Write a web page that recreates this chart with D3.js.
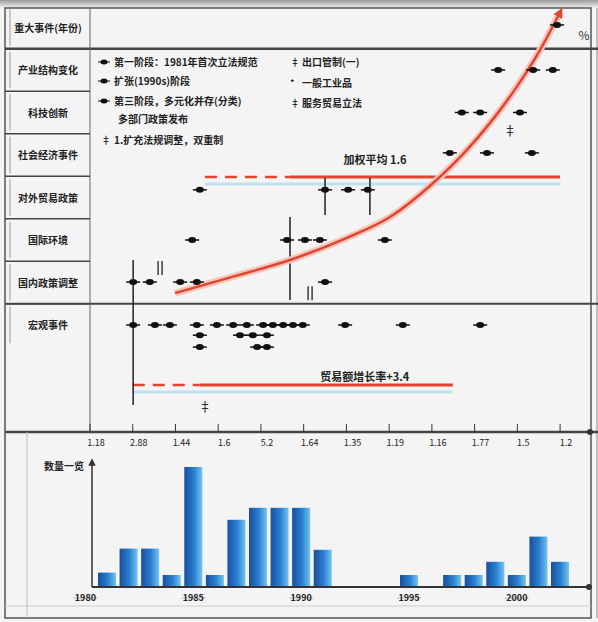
<!DOCTYPE html>
<html>
<head>
<meta charset="utf-8">
<script src="https://cdn.jsdelivr.net/npm/d3@7"></script>
<style>
body { margin: 0; background: #fff; }
svg { display: block; font-family: "Noto Sans CJK SC", "Noto Sans", sans-serif; }
</style>
</head>
<body>
<svg id="chart" width="598" height="622"></svg>
<script>
// Row labels (left column)
let rowLabels = ['重大事件(年份)', '产业结构变化', '科技创新', '社会经济事件', '对外贸易政策', '国际环境', '国内政策调整', '宏观事件'];

// Top axis tick labels
let tickValues = [0, 1, 2, 3, 4, 5, 6, 7, 8, 9, 10, 11];
let tickLabels = ['1.18', '2.88', '1.44', '1.6', '5.2', '1.64', '1.35', '1.19', '1.16', '1.77', '1.5', '1.2'];

// Events: [x value, row]
let events = [
    [10.93, -0.06],
    [9.55, 1], [10.37, 1], [10.83, 1],
    [8.70, 2], [9.13, 2], [10.06, 2],
    [8.42, 2.95], [9.29, 2.95], [10.34, 2.95],
    [2.57, 3.82], [5.50, 3.82], [6.04, 3.82], [6.50, 3.82],
    [2.39, 5], [4.61, 5], [5.03, 5], [5.38, 5], [6.90, 5],
    [1.01, 5.99], [1.40, 5.99], [2.11, 5.99], [2.50, 5.99], [5.50, 5.99],
    [1.01, 7], [1.52, 7], [1.87, 7], [2.50, 7], [2.97, 7], [3.35, 7], [3.67, 7],
    [4.05, 7], [4.28, 7], [4.52, 7], [4.75, 7], [4.98, 7], [5.97, 7], [7.32, 7], [9.13, 7],
    [2.57, 7.24], [3.51, 7.24], [3.81, 7.24], [4.14, 7.24],
    [2.57, 7.52], [3.91, 7.52], [4.14, 7.52]
];

// Growth curve: [x value, row]
let curvePts = [[1.99, 6.25], [3.39, 5.85], [4.68, 5.47], [6.01, 4.95], [7.02, 4.46],
    [8.03, 3.66], [8.82, 2.88], [9.90, 1.52], [10.53, 0.53], [11.0, -0.36]];

// Reference lines: row, start, end of dashes, end
let refRows = [3.52, 8.41];
let refStart = [2.69, 1.0];
let refDashEnd = [4.68, 2.57];
let refEnd = [11.0, 8.49];
let refLabels = ['加权平均 1.6', '贸易额增长率+3.4'];
let refLabelX = [6.67, 6.43];
let refLabelRow = [3.1, 8.2];

// Vertical markers: [x, row from, row to]
let vLines = [[1.01, 5.47, 8.88], [4.68, 4.46, 6.41], [5.50, 3.54, 4.41], [6.55, 3.54, 4.41]];
let pairMarks = [[1.64, 5.66], [5.15, 6.25]];
let symbols = [['‡', 9.83, 2.41], ['‡', 2.69, 8.9]];

// Legend
let legendLeft = ['第一阶段：1981年首次立法规范', '扩张(1990s)阶段', '第三阶段，多元化并存(分类)', '多部门政策发布', '1.扩充法规调整，双重制'];
let legendLeftMark = ['dot', 'dot', 'dot', '', '‡'];
let legendRight = ['出口管制(一)', '一般工业品', '服务贸易立法'];
let legendRightMark = ['‡', '*', '‡'];

// Bar chart
let barYears = [1981, 1982, 1983, 1984, 1985, 1986, 1987, 1988, 1989, 1990, 1991, 1995, 1997, 1998, 1999, 2000, 2001, 2002];
let barValues = [1.2, 3.2, 3.2, 1, 10, 1, 5.6, 6.6, 6.6, 6.6, 3.1, 1, 1, 1, 2.1, 1, 4.2, 2.1];
let barTickYears = [1980, 1985, 1990, 1995, 2000];

let svg = d3.select('#chart');
let x = d3.scaleLinear().domain([0, 11.7]).range([90, 590]);
let row = d3.scaleLinear().domain([0, 7]).range([27.5, 325]);
let barX = d3.scaleLinear().domain([1981, 2002]).range([107, 560]);
let barY = d3.scaleLinear().domain([0, 11]).range([587, 455]);

let defs = svg.append('defs');
let grad = defs.append('linearGradient').attr('id', 'barGrad');
grad.append('stop').attr('offset', '0%').attr('stop-color', '#1a4f9c');
grad.append('stop').attr('offset', '55%').attr('stop-color', '#2a80d2');
grad.append('stop').attr('offset', '100%').attr('stop-color', '#74c4ee');
let topShade = defs.append('linearGradient').attr('id', 'topShade').attr('x1', 0).attr('x2', 0).attr('y1', 0).attr('y2', 1);
topShade.append('stop').attr('offset', '0%').attr('stop-color', '#9a9a9a');
topShade.append('stop').attr('offset', '100%').attr('stop-color', '#f2f2f2');
defs.append('marker').attr('id', 'redArrow').attr('viewBox', '0 0 10 10')
    .attr('refX', 5).attr('refY', 5).attr('markerWidth', 4).attr('markerHeight', 4).attr('orient', 'auto')
    .append('path').attr('d', 'M0,0L10,5L0,10z').attr('fill', '#e0452f');
defs.append('marker').attr('id', 'blackArrow').attr('viewBox', '0 0 10 10')
    .attr('refX', 5).attr('refY', 5).attr('markerWidth', 5).attr('markerHeight', 5).attr('orient', 'auto')
    .append('path').attr('d', 'M0,0L10,5L0,10z').attr('fill', '#333');

// Background and frame
svg.append('rect').attr('width', 598).attr('height', 622).attr('fill', '#f4f4f4');
svg.append('rect').attr('x', 0).attr('y', 0).attr('width', 598).attr('height', 8).attr('fill', 'url(#topShade)');
svg.append('rect').attr('x', 5).attr('y', 8).attr('width', 586).attr('height', 610)
    .attr('fill', 'none').attr('stroke', '#555').attr('stroke-width', 1.5);
svg.append('line').attr('x1', 597).attr('x2', 597).attr('y1', 8).attr('y2', 618).attr('stroke', '#888');

// Horizontal dividers
[[row(0.5), 2.5], [row(6.5), 2], [432, 2.5]].forEach(([y, w]) => {
    svg.append('line').attr('x1', 5).attr('x2', 598).attr('y1', y).attr('y2', y)
        .attr('stroke', '#444').attr('stroke-width', w);
});
svg.append('line').attr('x1', 90).attr('x2', 90).attr('y1', 8).attr('y2', 432).attr('stroke', '#666');
svg.append('line').attr('x1', 27).attr('x2', 27).attr('y1', 432).attr('y2', 618).attr('stroke', '#bbb');
svg.append('line').attr('x1', 5).attr('x2', 591).attr('y1', 606).attr('y2', 606).attr('stroke', '#ccc');

// Row label cells
rowLabels.forEach((label, i) => {
    if (i > 0 && i < 7) {
        svg.append('line').attr('x1', 5).attr('x2', 90).attr('y1', row(i + 0.5)).attr('y2', row(i + 0.5))
            .attr('stroke', '#444').attr('stroke-width', 1.5);
    }
    svg.append('line').attr('x1', 10).attr('x2', 10).attr('y1', row(i - 0.5) + 3).attr('y2', row(i + 0.5) - 3)
        .attr('stroke', '#999');
    svg.append('text').attr('x', 48).attr('y', row(i) + 4)
        .attr('text-anchor', 'middle').attr('font-size', 10).attr('font-weight', 'bold')
        .attr('fill', '#222').text(label);
});

// Top axis
let axis = svg.append('g').attr('transform', 'translate(0,432)');
tickValues.forEach((t, i) => {
    axis.append('line').attr('x1', x(t)).attr('x2', x(t)).attr('y1', 0).attr('y2', -8).attr('stroke', '#333');
    axis.append('text').attr('x', x(t) + 6).attr('y', 14).attr('text-anchor', 'middle')
        .attr('font-size', 9).attr('fill', '#222').text(tickLabels[i]);
});
axis.append('circle').attr('cx', x(11.7)).attr('cy', 0).attr('r', 3).attr('fill', '#333');

// Legend
let legY = [62, 81, 101, 119, 140];
legendLeft.forEach((t, i) => {
    let m = legendLeftMark[i];
    if (m === 'dot') {
        svg.append('line').attr('x1', 98).attr('x2', 110).attr('y1', legY[i]).attr('y2', legY[i]).attr('stroke', '#111');
        svg.append('ellipse').attr('cx', 104).attr('cy', legY[i]).attr('rx', 3.5).attr('ry', 2.5).attr('fill', '#111');
    } else if (m) {
        svg.append('text').attr('x', 101).attr('y', legY[i] + 4).attr('font-size', 10).text(m);
    }
    svg.append('text').attr('x', i === 3 ? 118 : 114).attr('y', legY[i] + 4)
        .attr('font-size', 10).attr('font-weight', 'bold').attr('fill', '#222').text(t);
});
legendRight.forEach((t, i) => {
    let y = [62, 83, 103][i];
    svg.append('text').attr('x', 290).attr('y', y + 4).attr('font-size', 10).text(legendRightMark[i]);
    svg.append('text').attr('x', 302).attr('y', y + 4).attr('font-size', 10)
        .attr('font-weight', 'bold').attr('fill', '#222').text(t);
});

// Reference lines
refRows.forEach((r, i) => {
    let y = row(r);
    svg.append('line').attr('x1', x(refStart[i])).attr('x2', x(refEnd[i]))
        .attr('y1', y + 7).attr('y2', y + 7).attr('stroke', '#bfe2f0').attr('stroke-width', 3);
    svg.append('line').attr('x1', x(refStart[i])).attr('x2', x(refDashEnd[i]))
        .attr('y1', y).attr('y2', y).attr('stroke', '#e0452f').attr('stroke-width', 2.5)
        .attr('stroke-dasharray', '12,8');
    svg.append('line').attr('x1', x(refDashEnd[i])).attr('x2', x(refEnd[i]))
        .attr('y1', y).attr('y2', y).attr('stroke', '#e0452f').attr('stroke-width', 3);
    svg.append('text').attr('x', x(refLabelX[i])).attr('y', row(refLabelRow[i]) + 5)
        .attr('text-anchor', 'middle').attr('font-size', 11).attr('font-weight', 'bold')
        .attr('fill', '#222').text(refLabels[i]);
});

// Vertical markers
vLines.forEach(([v, r0, r1]) => {
    svg.append('line').attr('x1', x(v)).attr('x2', x(v)).attr('y1', row(r0)).attr('y2', row(r1))
        .attr('stroke', '#222').attr('stroke-width', 1.5);
});
pairMarks.forEach(([v, r]) => {
    [-2, 2].forEach(dx => {
        svg.append('line').attr('x1', x(v) + dx).attr('x2', x(v) + dx)
            .attr('y1', row(r) - 7).attr('y2', row(r) + 7).attr('stroke', '#222').attr('stroke-width', 1.3);
    });
});
symbols.forEach(([s, v, r]) => {
    svg.append('text').attr('x', x(v)).attr('y', row(r) + 5).attr('text-anchor', 'middle')
        .attr('font-size', 13).attr('fill', '#222').text(s);
});

// Growth curve
let line = d3.line().x(d => x(d[0])).y(d => row(d[1])).curve(d3.curveMonotoneX);
svg.append('path').attr('d', line(curvePts)).attr('fill', 'none')
    .attr('stroke', '#f6c5bb').attr('stroke-width', 7);
svg.append('path').attr('d', line(curvePts)).attr('fill', 'none')
    .attr('stroke', '#e0452f').attr('stroke-width', 2.5).attr('marker-end', 'url(#redArrow)');

// Event points
let pts = svg.append('g').selectAll('g').data(events).enter().append('g')
    .attr('transform', d => `translate(${x(d[0])},${row(d[1])})`);
pts.append('line').attr('x1', -7).attr('x2', 7).attr('stroke', '#111').attr('stroke-width', 1.5);
pts.append('ellipse').attr('rx', 4).attr('ry', 3).attr('fill', '#111');

svg.append('text').attr('x', 584).attr('y', 40).attr('text-anchor', 'middle')
    .attr('font-size', 12).attr('fill', '#333').text('%');

// Bar chart
svg.append('line').attr('x1', 92).attr('x2', 92).attr('y1', barY(0)).attr('y2', 462)
    .attr('stroke', '#333').attr('stroke-width', 1.5).attr('marker-end', 'url(#blackArrow)');
svg.append('text').attr('x', 84).attr('y', 470).attr('text-anchor', 'end')
    .attr('font-size', 10).attr('font-weight', 'bold').attr('fill', '#222').text('数量一览');

svg.append('g').selectAll('rect').data(barValues).enter().append('rect')
    .attr('x', (d, i) => barX(barYears[i]) - 9)
    .attr('y', d => barY(d))
    .attr('width', 18)
    .attr('height', d => barY(0) - barY(d))
    .attr('fill', 'url(#barGrad)');

svg.append('line').attr('x1', 92).attr('x2', 588).attr('y1', barY(0)).attr('y2', barY(0))
    .attr('stroke', '#333').attr('stroke-width', 2);
svg.append('circle').attr('cx', 589).attr('cy', barY(0)).attr('r', 3).attr('fill', '#333');

barTickYears.forEach(yr => {
    svg.append('line').attr('x1', barX(yr) - 12).attr('x2', barX(yr) + 12)
        .attr('y1', 598).attr('y2', 598).attr('stroke', '#bbb');
    svg.append('text').attr('x', barX(yr)).attr('y', 601).attr('text-anchor', 'middle')
        .attr('font-size', 9).attr('font-weight', 'bold').attr('fill', '#222').text(yr);
});
</script>
</body>
</html>
